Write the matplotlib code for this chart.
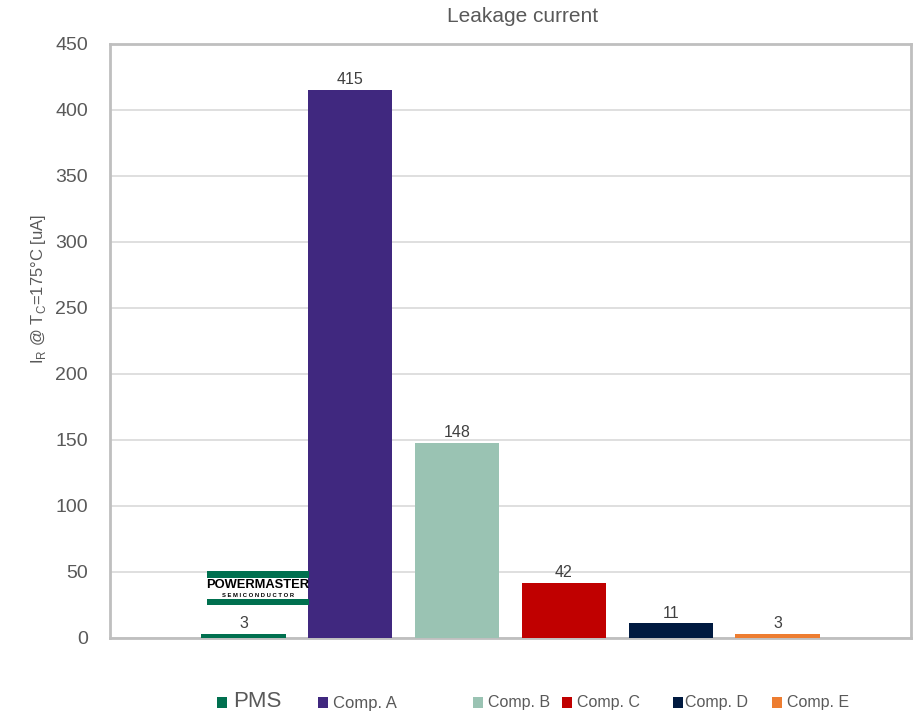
import numpy as np
import matplotlib.pyplot as plt
from matplotlib.patches import Rectangle

plt.rcParams['font.family'] = ['Liberation Sans', 'DejaVu Sans']

# leakage current at Tc = 175 C, in uA
names = ['PMS', 'Comp. A', 'Comp. B', 'Comp. C', 'Comp. D', 'Comp. E']
values = [3, 415, 148, 42, 11, 3]
colors = ['#00704F', '#40287F', '#9AC3B3', '#C00000', '#001A40', '#ED7D31']

W, H = 913, 712
fig = plt.figure(figsize=(W / 100, H / 100), dpi=100)

# plot area in pixels: x 110..911, y 44..638
ax = fig.add_axes([110 / W, 1 - 638 / H, 801 / W, 594 / H])

x = np.arange(len(values))
bars = ax.bar(x, values, width=0.79, color=colors, zorder=3)
ax.bar_label(bars, labels=[str(v) for v in values], padding=2,
             fontsize=11.5, color='#404040')

ax.set_xlim(-1.25, 6.25)
ax.set_ylim(0, 450)
ax.set_yticks(np.arange(0, 451, 50))
ax.set_xticks([])
ax.tick_params(axis='y', length=0, pad=16, labelsize=14, labelcolor='#595959')
ax.grid(axis='y', color='#D9D9D9', linewidth=1.2, zorder=0)
for sp in ax.spines.values():
    sp.set_color('#BFBFBF')
    sp.set_linewidth(2)

fig.text(523 / W, 1 - 17 / H, 'Leakage current', ha='center', va='center',
         fontsize=15, color='#595959')
fig.text(39 / W, 1 - 289 / H,
         r'I$_\mathregular{R}$ @ T$_\mathregular{C}$=175°C [uA]',
         rotation=90, ha='center', va='center', fontsize=12, color='#595959')

# company logo above the PMS bar
logo = fig.add_axes([207 / W, 1 - 605 / H, 102 / W, 34 / H])
logo.set_xlim(0, 1)
logo.set_ylim(0, 34)
logo.axis('off')
logo.add_patch(Rectangle((0, 27), 1, 7, color=colors[0], lw=0))
logo.add_patch(Rectangle((0, 0), 1, 6, color=colors[0], lw=0))
logo.text(0.5, 19.5, 'POWERMASTER', ha='center', va='center',
          fontsize=9.3, fontweight='bold', color='black')
logo.text(0.5, 9.5, ' '.join('SEMICONDUCTOR'), ha='center', va='center',
          fontsize=4.2, fontweight='bold', color='black')

# legend, laid out by hand
legend_layout = [
    # square x, text x, text baseline y, font size
    (217, 233, 707, 16),
    (318, 333, 708, 12),
    (473, 488, 707, 11.5),
    (562, 577, 707, 11.5),
    (673, 685, 707, 11.5),
    (772, 787, 707, 11.5),
]
for name, c, (sx, tx, by, fs) in zip(names, colors, legend_layout):
    fig.patches.append(Rectangle((sx / W, 1 - 708 / H), 10 / W, 11 / H,
                                 transform=fig.transFigure, color=c, lw=0))
    fig.text(tx / W, 1 - by / H, name, ha='left', va='baseline',
             fontsize=fs, color='#595959')

fig.savefig('out.png', dpi=100)
